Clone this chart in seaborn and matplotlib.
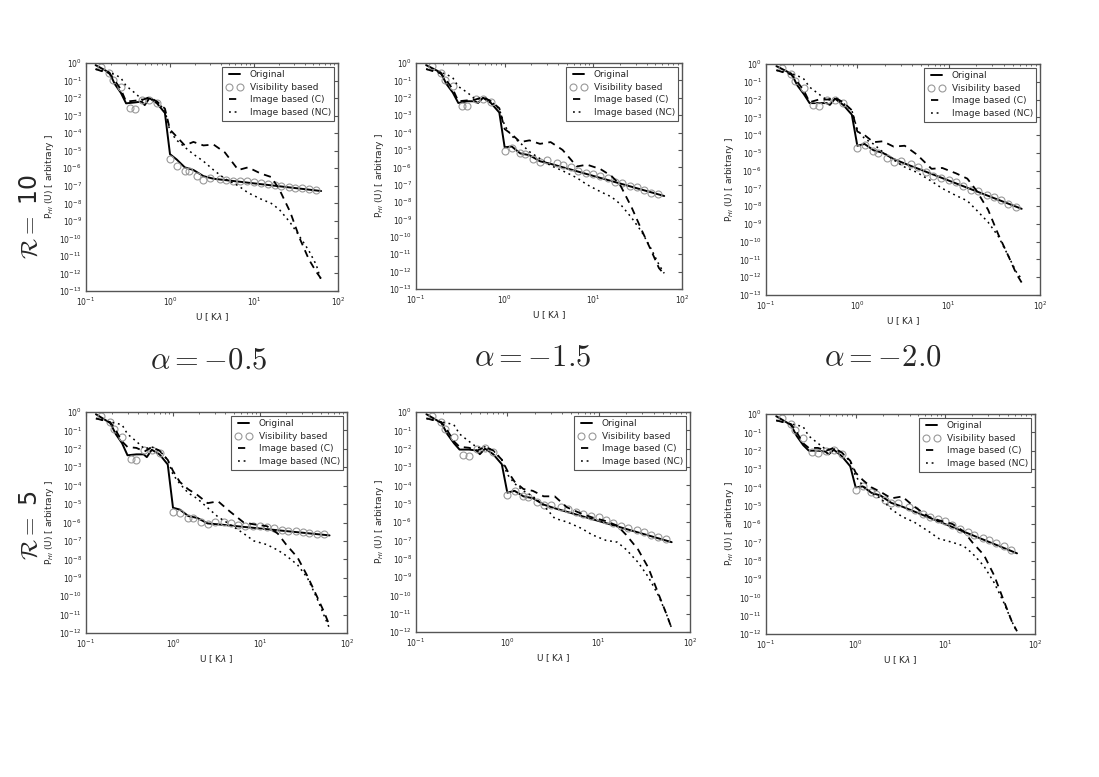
import numpy as np
import matplotlib
matplotlib.use("Agg")
import matplotlib.pyplot as plt
from matplotlib.ticker import LogLocator, NullLocator
import seaborn as sns

sns.set_style("white")
plt.rcParams['font.family'] = ['DejaVu Sans']

# values are log10 of P_HI(U)
U_orig = [0.13, 0.19, 0.22, 0.26, 0.30, 0.38, 0.46, 0.50, 0.57, 0.70, 0.87, 1.0, 1.2, 1.5, 1.9, 2.5, 3.3, 63]
U_img = [0.13, 0.19, 0.22, 0.26, 0.30, 0.38, 0.47, 0.57, 0.70, 0.87, 1.0, 1.2, 1.5, 1.9, 2.5, 3.3,
         4.5, 6.5, 8.5, 12, 16, 20, 27, 35, 45, 55, 63]
U_vis = [0.15, 0.19, 0.21, 0.26, 0.33, 0.38, 0.47, 0.57, 0.70, 1.0, 1.2, 1.5, 1.7, 2.1, 2.5, 3.0,
         3.9, 4.6, 5.6, 6.8, 8.2, 10, 12, 14.5, 17.7, 21, 26, 31, 37, 45, 54]

# R = 10
orig_r10_a05 = [-0.12, -0.55, -1.2, -1.7, -2.3, -2.25, -2.2, -2.4, -2.0, -2.3, -2.85, -5.2, -5.5, -5.95, -6.1, -6.45, -6.6, -7.3]
orig_r10_a15 = [-0.12, -0.55, -1.2, -1.7, -2.3, -2.2, -2.2, -2.3, -2.0, -2.3, -2.85, -4.85, -4.8, -5.2, -5.3, -5.65, -5.8, -7.65]
orig_r10_a20 = [-0.12, -0.55, -1.2, -1.7, -2.2, -2.2, -2.2, -2.3, -1.95, -2.3, -2.85, -4.6, -4.5, -4.85, -5.0, -5.35, -5.6, -8.15]

vis_r10_a05 = [-0.2, -0.55, -0.95, -1.35, -2.55, -2.6, -2.1, -2.1, -2.3, -5.5, -5.9, -6.15, -6.15, -6.45, -6.65, -6.55,
               -6.6, -6.65, -6.7, -6.75, -6.75, -6.8, -6.85, -6.9, -6.95, -7.0, -7.05, -7.1, -7.15, -7.2, -7.25]
vis_r10_a15 = [-0.2, -0.55, -0.95, -1.35, -2.45, -2.5, -2.05, -2.05, -2.25, -5.05, -4.9, -5.2, -5.25, -5.5, -5.7, -5.6,
               -5.75, -5.85, -6.0, -6.2, -6.3, -6.4, -6.5, -6.6, -6.85, -6.9, -7.05, -7.15, -7.3, -7.45, -7.55]
vis_r10_a20 = [-0.2, -0.55, -0.95, -1.35, -2.3, -2.35, -2.05, -2.0, -2.2, -4.7, -4.55, -4.9, -5.0, -5.3, -5.5, -5.45,
               -5.65, -5.8, -6.05, -6.3, -6.4, -6.5, -6.65, -6.85, -7.1, -7.15, -7.35, -7.5, -7.65, -7.9, -8.05]

imgc_r10_a05 = [-0.35, -0.6, -1.0, -1.5, -2.2, -2.15, -2.1, -1.95, -2.2, -2.6, -3.8, -4.2, -4.7, -4.5, -4.7, -4.65,
                -5.1, -6.1, -5.95, -6.3, -6.5, -7.2, -8.5, -10.0, -11.2, -11.9, -12.3]
imgc_r10_a15 = [-0.35, -0.6, -1.0, -1.5, -2.2, -2.15, -2.1, -1.95, -2.2, -2.6, -3.8, -4.1, -4.55, -4.45, -4.65, -4.55,
                -5.0, -5.95, -5.85, -6.1, -6.5, -7.0, -8.3, -9.6, -10.8, -11.8, -12.15]
imgc_r10_a20 = [-0.35, -0.6, -1.0, -1.5, -2.15, -2.0, -2.0, -1.9, -2.15, -2.6, -3.8, -4.0, -4.4, -4.35, -4.65, -4.6,
                -5.1, -5.9, -5.85, -6.15, -6.45, -7.1, -8.2, -9.6, -10.8, -11.8, -12.3]

imgnc_r10_a05 = [-0.35, -0.55, -0.65, -0.85, -1.3, -1.7, -2.1, -2.0, -2.2, -2.7, -3.9, -4.4, -4.8, -5.2, -5.6, -6.1,
                 -6.6, -7.0, -7.4, -7.75, -8.0, -8.35, -9.1, -9.9, -10.7, -11.5, -12.4]
imgnc_r10_a15 = [-0.35, -0.55, -0.65, -0.85, -1.35, -1.7, -2.1, -2.0, -2.2, -2.65, -3.6, -4.2, -4.6, -5.1, -5.5, -5.9,
                 -6.2, -6.6, -7.0, -7.4, -7.7, -8.1, -8.9, -9.7, -10.7, -11.6, -12.1]
imgnc_r10_a20 = [-0.35, -0.55, -0.65, -0.85, -1.3, -1.7, -2.05, -1.95, -2.2, -2.6, -3.7, -4.2, -4.5, -4.95, -5.4, -5.8,
                 -6.1, -6.6, -7.0, -7.4, -7.7, -8.2, -8.9, -9.7, -10.8, -11.7, -12.1]

# R = 5
orig_r5_a05 = [-0.12, -0.6, -1.2, -1.7, -2.35, -2.3, -2.3, -2.45, -2.05, -2.3, -2.85, -5.2, -5.3, -5.65, -5.75, -6.05, -6.1, -6.7]
orig_r5_a15 = [-0.12, -0.6, -1.2, -1.7, -2.05, -2.05, -2.1, -2.3, -2.0, -2.3, -2.85, -4.4, -4.3, -4.6, -4.7, -5.05, -5.25, -7.1]
orig_r5_a20 = [-0.12, -0.6, -1.2, -1.7, -2.0, -2.0, -2.05, -2.2, -1.95, -2.3, -2.85, -4.0, -3.95, -4.3, -4.45, -4.85, -5.05, -7.6]

vis_r5_a05 = [-0.2, -0.55, -0.9, -1.35, -2.55, -2.6, -2.05, -2.05, -2.25, -5.45, -5.5, -5.75, -5.75, -5.95, -6.1, -5.95,
              -5.95, -6.05, -6.15, -6.2, -6.2, -6.2, -6.25, -6.3, -6.4, -6.45, -6.45, -6.5, -6.55, -6.6, -6.65]
vis_r5_a15 = [-0.2, -0.55, -0.9, -1.35, -2.35, -2.4, -2.0, -1.95, -2.2, -4.55, -4.3, -4.6, -4.65, -4.9, -5.05, -5.05,
              -5.2, -5.3, -5.45, -5.55, -5.65, -5.75, -5.9, -6.05, -6.2, -6.3, -6.45, -6.55, -6.7, -6.8, -6.95]
vis_r5_a20 = [-0.2, -0.55, -0.9, -1.3, -2.1, -2.15, -2.0, -1.95, -2.2, -4.15, -3.95, -4.25, -4.35, -4.7, -4.85, -4.85,
              -5.05, -5.25, -5.45, -5.6, -5.75, -5.85, -6.05, -6.25, -6.45, -6.6, -6.75, -6.85, -7.05, -7.2, -7.4]

imgc_r5_a05 = [-0.35, -0.55, -1.0, -1.6, -1.9, -1.95, -2.15, -1.9, -2.1, -2.6, -3.2, -3.8, -4.2, -4.5, -4.95, -4.85,
               -5.4, -6.0, -6.1, -6.2, -6.6, -7.2, -7.9, -8.9, -10.0, -10.9, -11.6]
imgc_r5_a15 = [-0.35, -0.55, -1.0, -1.6, -1.9, -1.95, -2.1, -1.9, -2.1, -2.6, -3.2, -3.8, -4.2, -4.3, -4.6, -4.6,
               -5.2, -5.55, -5.75, -5.95, -6.2, -6.7, -7.5, -8.5, -9.9, -11.0, -11.8]
imgc_r5_a20 = [-0.35, -0.55, -1.0, -1.6, -1.85, -1.85, -2.0, -1.85, -2.1, -2.55, -3.2, -3.6, -4.0, -4.25, -4.6, -4.5,
               -5.05, -5.6, -5.8, -6.0, -6.4, -7.0, -7.7, -8.8, -10.2, -11.3, -11.85]

imgnc_r5_a05 = [-0.35, -0.55, -0.6, -0.7, -1.2, -1.6, -2.0, -1.9, -2.1, -2.6, -3.4, -3.9, -4.4, -4.7, -5.2, -5.7,
                -6.1, -6.6, -7.0, -7.2, -7.5, -7.8, -8.3, -9.0, -10.1, -11.1, -11.75]
imgnc_r5_a15 = [-0.35, -0.55, -0.6, -0.7, -1.2, -1.6, -1.95, -1.9, -2.1, -2.6, -3.4, -3.9, -4.3, -4.6, -5.1, -5.8,
                -6.0, -6.35, -6.7, -7.0, -7.1, -7.5, -8.2, -9.0, -10.0, -11.0, -11.8]
imgnc_r5_a20 = [-0.35, -0.55, -0.6, -0.7, -1.2, -1.6, -1.95, -1.9, -2.1, -2.6, -3.4, -3.9, -4.3, -4.6, -5.2, -5.6,
                -5.9, -6.4, -6.8, -7.0, -7.2, -7.6, -8.3, -9.2, -10.3, -11.3, -11.9]

alpha_labels = [r'$\alpha = -0.5$', r'$\alpha = -1.5$', r'$\alpha = -2.0$']
ratio_labels = [r'$\mathcal{R} =$ 10', r'$\mathcal{R} =$ 5']
legend_labels = ['Original', 'Visibility based', 'Image based (C)', 'Image based (NC)']

panels = [
    (orig_r10_a05, vis_r10_a05, imgc_r10_a05, imgnc_r10_a05, -13),
    (orig_r10_a15, vis_r10_a15, imgc_r10_a15, imgnc_r10_a15, -13),
    (orig_r10_a20, vis_r10_a20, imgc_r10_a20, imgnc_r10_a20, -13),
    (orig_r5_a05, vis_r5_a05, imgc_r5_a05, imgnc_r5_a05, -12),
    (orig_r5_a15, vis_r5_a15, imgc_r5_a15, imgnc_r5_a15, -12),
    (orig_r5_a20, vis_r5_a20, imgc_r5_a20, imgnc_r5_a20, -12),
]

# axes boxes in pixels: left, top, right, bottom
boxes = [(86, 63, 338, 291), (416, 63, 682, 289), (766, 64, 1040, 295),
         (86, 412, 347, 633), (416, 412, 690, 632), (766, 414, 1035, 634)]

W, H = 1099, 777
fig = plt.figure(figsize=(W / 100, H / 100), dpi=100)

for (orig, vis, imgc, imgnc, ybot), (l, t, r, b) in zip(panels, boxes):
    ax = fig.add_axes([l / W, 1 - b / H, (r - l) / W, (b - t) / H])
    ax.set_xscale('log')
    ax.set_yscale('log')

    sns.lineplot(x=U_orig, y=10 ** np.array(orig), ax=ax, color='black', lw=1.4,
                 label=legend_labels[0], estimator=None, sort=False)
    sns.lineplot(x=U_vis, y=10 ** np.array(vis), ax=ax, color='#999999', linestyle='none',
                 marker='o', markersize=5, markerfacecolor='none', markeredgecolor='#999999',
                 markeredgewidth=0.8, label=legend_labels[1], estimator=None, sort=False)
    sns.lineplot(x=U_img, y=10 ** np.array(imgc), ax=ax, color='black', lw=1.3,
                 dashes=False, label=legend_labels[2], estimator=None, sort=False)
    sns.lineplot(x=U_img, y=10 ** np.array(imgnc), ax=ax, color='black', lw=1.1,
                 dashes=False, label=legend_labels[3], estimator=None, sort=False)
    lines = ax.get_lines()
    lines[2].set_dashes([4, 3])
    lines[3].set_dashes([1.2, 2.5])

    ax.set_xlim(0.1, 100)
    ax.set_ylim(10.0 ** ybot, 1)
    ax.yaxis.set_major_locator(LogLocator(base=10, numticks=20))
    ax.yaxis.set_minor_locator(NullLocator())
    ax.xaxis.set_major_locator(LogLocator(base=10, numticks=10))
    ax.xaxis.set_minor_locator(LogLocator(base=10, subs=np.arange(2, 10), numticks=10))
    ax.tick_params(which='both', direction='in', labelsize=5.5, color='#555555',
                   top=True, right=True, pad=3)
    ax.tick_params(which='major', length=3)
    ax.tick_params(which='minor', length=1.5)
    for sp in ax.spines.values():
        sp.set_color('#555555')
        sp.set_linewidth(1.0)
    ax.set_xlabel(r'U [ K$\lambda$ ]', fontsize=6.5, labelpad=3)
    ax.set_ylabel(r'P$_{HI}$ (U) [ arbitrary ]', fontsize=6.5, labelpad=2)

    handles = ax.get_lines()[:4]
    leg = ax.legend(handles, legend_labels, loc='upper right', fontsize=6.5, numpoints=2,
                    handlelength=1.8, handletextpad=0.8, borderpad=0.4, labelspacing=0.4,
                    fancybox=False, framealpha=1, borderaxespad=0.4)
    leg.get_frame().set_edgecolor('#555555')
    leg.get_frame().set_linewidth(0.8)

# row and column labels
for label, (x, y) in zip(alpha_labels, [(209, 360), (533, 357), (883, 357)]):
    fig.text(x / W, 1 - y / H, label, fontsize=22, ha='center', va='center', math_fontfamily='cm')
for label, (x, y) in zip(ratio_labels, [(30, 217), (30, 525)]):
    fig.text(x / W, 1 - y / H, label, fontsize=17, ha='center', va='center', rotation=90,
             math_fontfamily='cm')

plt.savefig('out.png', dpi=100)
